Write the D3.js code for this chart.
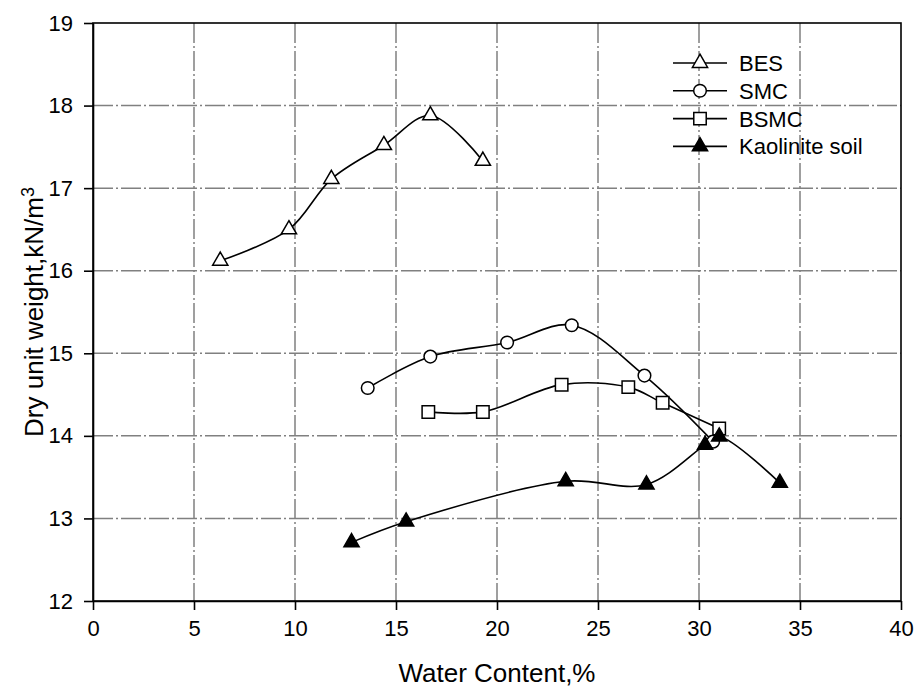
<!DOCTYPE html>
<html>
<head>
<meta charset="utf-8">
<script src="https://cdn.jsdelivr.net/npm/d3@7"></script>
<style>
  body { margin: 0; background: #fff; }
  svg { display: block; font-family: Arial, "Liberation Sans", sans-serif; }
  .grid line { stroke: #808080; stroke-width: 1.5; stroke-dasharray: 20,3,2,3; }
  .axis path, .axis line { stroke: #000; stroke-width: 1.6; }
  .frame { fill: none; stroke: #000; stroke-width: 1.6; }
  .series { fill: none; stroke: #000; stroke-width: 1.6; }
  .marker { stroke: #000; stroke-width: 1.5; }
</style>
</head>
<body>
<svg id="chart" width="915" height="689"></svg>
<script>
// data
const seriesNames = ['BES', 'SMC', 'BSMC', 'Kaolinite soil'];
const besWater = [6.3, 9.7, 11.8, 14.4, 16.7, 19.3];
const besWeight = [16.12, 16.5, 17.11, 17.52, 17.88, 17.33];
const smcWater = [13.6, 16.7, 20.5, 23.7, 27.3, 30.7];
const smcWeight = [14.58, 14.96, 15.13, 15.34, 14.73, 13.93];
const bsmcWater = [16.6, 19.3, 23.2, 26.5, 28.2, 31.0];
const bsmcWeight = [14.29, 14.29, 14.62, 14.59, 14.4, 14.09];
const kaolWater = [12.8, 15.5, 23.4, 27.4, 30.3, 31.0, 34.0];
const kaolWeight = [12.71, 12.96, 13.45, 13.41, 13.89, 13.99, 13.43];
const xTicks = [0, 5, 10, 15, 20, 25, 30, 35, 40];
const yTicks = [12, 13, 14, 15, 16, 17, 18, 19];

const FONT = 'Arial, "Liberation Sans", sans-serif';

const symbols = [
    { type: d3.symbolTriangle, size: 100, fill: '#fff' },
    { type: d3.symbolCircle, size: 125, fill: '#fff' },
    { type: d3.symbolSquare, size: 155, fill: '#fff' },
    { type: d3.symbolTriangle, size: 100, fill: '#000' }
];

const zip = (xs, ys) => xs.map((x, i) => ({ x: x, y: ys[i] }));
const series = [
    zip(besWater, besWeight),
    zip(smcWater, smcWeight),
    zip(bsmcWater, bsmcWeight),
    zip(kaolWater, kaolWeight)
];

const margin = { left: 93, right: 14, top: 23, bottom: 88 };
const svg = d3.select('#chart');
const width = +svg.attr('width') - margin.left - margin.right;
const height = +svg.attr('height') - margin.top - margin.bottom;

const x = d3.scaleLinear().domain([0, 40]).range([0, width]);
const y = d3.scaleLinear().domain([12, 19]).range([height, 0]);

const g = svg.append('g').attr('transform', `translate(${margin.left},${margin.top})`);

// grid
const grid = g.append('g').classed('grid', true);
grid.selectAll('.vx')
    .data(xTicks.slice(1, -1))
    .enter()
    .append('line')
    .attr('x1', d => x(d)).attr('x2', d => x(d))
    .attr('y1', 0).attr('y2', height);
grid.selectAll('.hy')
    .data(yTicks.slice(1, -1))
    .enter()
    .append('line')
    .attr('x1', 0).attr('x2', width)
    .attr('y1', d => y(d)).attr('y2', d => y(d));

// axes
g.append('g')
    .classed('axis', true)
    .attr('transform', `translate(0,${height})`)
    .call(d3.axisBottom(x).tickValues(xTicks).tickFormat(d3.format('d'))
        .tickSize(9).tickPadding(10).tickSizeOuter(0))
    .attr('font-size', 22)
    .attr('font-family', FONT)
    .call(a => a.selectAll('text').attr('fill', '#000'));

g.append('g')
    .classed('axis', true)
    .call(d3.axisLeft(y).tickValues(yTicks).tickFormat(d3.format('d'))
        .tickSize(9).tickPadding(11).tickSizeOuter(0))
    .attr('font-size', 22)
    .attr('font-family', FONT)
    .call(a => a.selectAll('text').attr('fill', '#000'));

g.append('rect')
    .classed('frame', true)
    .attr('width', width)
    .attr('height', height);

// curves
const line = d3.line()
    .x(d => x(d.x))
    .y(d => y(d.y))
    .curve(d3.curveCatmullRom.alpha(0.5));

g.selectAll('.series')
    .data(series)
    .enter()
    .append('path')
    .classed('series', true)
    .attr('d', d => line(d));

series.forEach((points, i) => {
    const sym = symbols[i];
    g.selectAll('.m' + i)
        .data(points)
        .enter()
        .append('path')
        .classed('marker', true)
        .attr('d', d3.symbol().type(sym.type).size(sym.size))
        .attr('fill', sym.fill)
        .attr('transform', d => `translate(${x(d.x)},${y(d.y)})`);
});

// legend
const legend = svg.append('g').attr('transform', 'translate(673,63)');
seriesNames.forEach((name, i) => {
    const row = legend.append('g').attr('transform', `translate(0,${i * 27.8})`);
    row.append('line')
        .attr('x1', 0).attr('x2', 54)
        .attr('stroke', '#000').attr('stroke-width', 1.6);
    row.append('path')
        .classed('marker', true)
        .attr('d', d3.symbol().type(symbols[i].type).size(symbols[i].size))
        .attr('fill', symbols[i].fill)
        .attr('transform', 'translate(27,0)');
    row.append('text')
        .attr('x', 66)
        .attr('dy', '0.36em')
        .style('font-size', '22px')
        .text(name);
});

// axis titles
svg.append('text')
    .attr('x', margin.left + width / 2)
    .attr('y', 682)
    .attr('text-anchor', 'middle')
    .style('font-size', '26px')
    .text('Water Content,%');

const yTitle = svg.append('text')
    .attr('transform', `translate(43,${margin.top + height / 2}) rotate(-90)`)
    .attr('text-anchor', 'middle')
    .style('font-size', '26px');
yTitle.append('tspan').text('Dry unit weight,kN/m');
yTitle.append('tspan')
    .attr('dy', '-0.5em')
    .style('font-size', '18px')
    .text('3');
</script>
</body>
</html>
